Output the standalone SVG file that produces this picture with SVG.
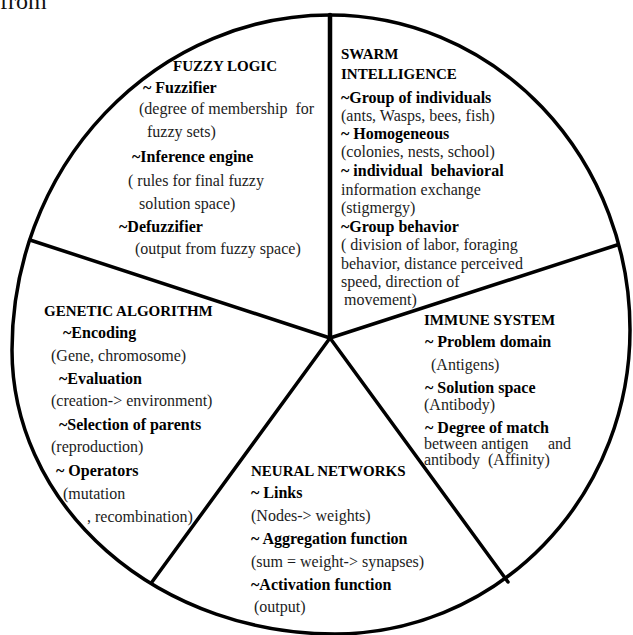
<svg xmlns="http://www.w3.org/2000/svg" width="633" height="635" viewBox="0 0 633 635">
<style>
text{font-family:"Liberation Serif","Times New Roman",serif;fill:#111;white-space:pre}
.h{font-size:15px;font-weight:bold;fill:#000}
.b{font-size:16px;font-weight:bold;fill:#000}
.r{font-size:16px;fill:#1c1c1c}
.edge{fill:none;stroke:#000;stroke-linecap:round}
</style>
<rect width="633" height="635" fill="#fff"/>
<text x="0" y="9" style="font-size:24px;fill:#111">from</text>
<g id="outline">
<path class="edge" stroke-width="3.5" d="M330,15 A300,315 0 0 1 630,330 A295,304 0 0 1 335,634 A323,284 0 0 1 12,350 A318,335 0 0 1 330,15 Z"/>
</g>
<g id="connectors">
<line class="edge" stroke-width="4.5" x1="330" y1="15" x2="330" y2="338"/>
<line class="edge" stroke-width="3.5" x1="330" y1="338" x2="30" y2="240"/>
<line class="edge" stroke-width="3.5" x1="330" y1="338" x2="617" y2="245"/>
<line class="edge" stroke-width="3.5" x1="330" y1="338" x2="152" y2="582"/>
<line class="edge" stroke-width="3.5" x1="330" y1="338" x2="508" y2="582"/>
</g>
<g id="fuzzy-logic">
<text class="h" x="173" y="71">FUZZY LOGIC</text>
<text class="b" x="143" y="93">~ Fuzzifier</text>
<text class="r" x="139" y="114" xml:space="preserve">(degree of membership  for</text>
<text class="r" x="147" y="137">fuzzy sets)</text>
<text class="b" x="132" y="162">~Inference engine</text>
<text class="r" x="128" y="186">( rules for final fuzzy</text>
<text class="r" x="139" y="209">solution space)</text>
<text class="b" x="119" y="232">~Defuzzifier</text>
<text class="r" x="135" y="254">(output from fuzzy space)</text>
</g>
<g id="swarm-intelligence">
<text class="h" x="341" y="59">SWARM</text>
<text class="h" x="341" y="79">INTELLIGENCE</text>
<text class="b" x="341" y="103">~Group of individuals</text>
<text class="r" x="341" y="121">(ants, Wasps, bees, fish)</text>
<text class="b" x="341" y="139">~ Homogeneous</text>
<text class="r" x="341" y="157">(colonies, nests, school)</text>
<text class="b" x="341" y="176" xml:space="preserve">~ individual  behavioral</text>
<text class="r" x="341" y="195">information exchange</text>
<text class="r" x="341" y="213">(stigmergy)</text>
<text class="b" x="341" y="232">~Group behavior</text>
<text class="r" x="341" y="250">( division of labor, foraging</text>
<text class="r" x="341" y="269">behavior, distance perceived</text>
<text class="r" x="341" y="287">speed, direction of</text>
<text class="r" x="344" y="305">movement)</text>
</g>
<g id="genetic-algorithm">
<text class="h" x="44" y="316">GENETIC ALGORITHM</text>
<text class="b" x="63" y="338">~Encoding</text>
<text class="r" x="51" y="361">(Gene, chromosome)</text>
<text class="b" x="59" y="384">~Evaluation</text>
<text class="r" x="51" y="406">(creation-&gt; environment)</text>
<text class="b" x="59" y="430">~Selection of parents</text>
<text class="r" x="51" y="452">(reproduction)</text>
<text class="b" x="56" y="476">~ Operators</text>
<text class="r" x="63" y="499">(mutation</text>
<text class="r" x="87" y="522">, recombination)</text>
</g>
<g id="immune-system">
<text class="h" x="424" y="325">IMMUNE SYSTEM</text>
<text class="b" x="425" y="347">~ Problem domain</text>
<text class="r" x="431" y="370">(Antigens)</text>
<text class="b" x="425" y="393">~ Solution space</text>
<text class="r" x="424" y="410">(Antibody)</text>
<text class="b" x="425" y="433">~ Degree of match</text>
<text class="r" x="424" y="449">between antigen<tspan x="548">and</tspan></text>
<text class="r" x="424" y="465" xml:space="preserve">antibody  (Affinity)</text>
</g>
<g id="neural-networks">
<text class="h" x="251" y="476">NEURAL NETWORKS</text>
<text class="b" x="251" y="498">~ Links</text>
<text class="r" x="251" y="521">(Nodes-&gt; weights)</text>
<text class="b" x="251" y="544">~ Aggregation function</text>
<text class="r" x="251" y="567">(sum = weight-&gt; synapses)</text>
<text class="b" x="251" y="590">~Activation function</text>
<text class="r" x="254" y="612">(output)</text>
</g>
</svg>
